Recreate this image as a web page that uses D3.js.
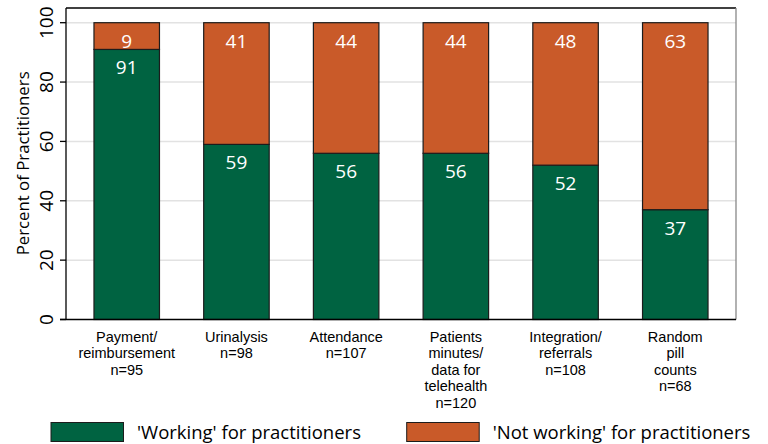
<!DOCTYPE html>
<html>
<head>
<meta charset="utf-8">
<script src="https://cdn.jsdelivr.net/npm/d3@7"></script>
<style>
  body { margin: 0; background: #fff; }
  text { font-family: "Open Sans", sans-serif; }
  .cat { font-family: "Liberation Sans", Arial, sans-serif; }
</style>
</head>
<body>
<svg id="chart" width="768" height="444"></svg>
<script>
// data
const categories = [
    ["Payment/", "reimbursement", "n=95"],
    ["Urinalysis", "n=98"],
    ["Attendance", "n=107"],
    ["Patients", "minutes/", "data for", "telehealth", "n=120"],
    ["Integration/", "referrals", "n=108"],
    ["Random", "pill", "counts", "n=68"]
]
const working = [91, 59, 56, 56, 52, 37]
const notWorking = [9, 41, 44, 44, 48, 63]
const yTicks = [0, 20, 40, 60, 80, 100]
const seriesNames = ["'Working' for practitioners", "'Not working' for practitioners"]
const colors = ["#006341", "#C95A29"]

const svg = d3.select("#chart")

const plotLeft = 66, plotRight = 736, plotTop = 8, plotBottom = 319.5

let x = d3.scaleBand()
    .domain(d3.range(categories.length))
    .range([plotLeft, plotRight])
    .paddingInner(0.403)
    .paddingOuter(0.255)

let y = d3.scaleLinear()
    .domain([0, 100])
    .range([plotBottom, 22.7])

// gridlines
svg.append("g")
    .selectAll("line")
    .data(yTicks.filter(d => d > 0))
    .join("line")
    .attr("x1", plotLeft)
    .attr("x2", plotRight)
    .attr("y1", d => y(d))
    .attr("y2", d => y(d))
    .attr("stroke", "#e2e2e2")
    .attr("stroke-width", 1.5)

// frame top / right
svg.append("line")
    .attr("x1", plotLeft).attr("x2", plotRight)
    .attr("y1", plotTop).attr("y2", plotTop)
    .attr("stroke", "#000").attr("stroke-width", 1.3)
svg.append("line")
    .attr("x1", plotRight).attr("x2", plotRight)
    .attr("y1", plotTop).attr("y2", plotBottom)
    .attr("stroke", "#888").attr("stroke-width", 1.3)

// stacked bars
let stackData = categories.map((c, i) => ({ i: i, working: working[i], notWorking: notWorking[i] }))
let stacked = d3.stack().keys(["working", "notWorking"])(stackData)

let layers = svg.append("g")
    .selectAll("g")
    .data(stacked)
    .join("g")
    .attr("fill", (d, k) => colors[k])

layers.selectAll("rect")
    .data(d => d)
    .join("rect")
    .attr("x", d => x(d.data.i))
    .attr("width", x.bandwidth())
    .attr("y", d => y(d[1]))
    .attr("height", d => y(d[0]) - y(d[1]))
    .attr("stroke", "#1c1c1c")
    .attr("stroke-width", 1.2)

// value labels inside segments
layers.selectAll("text")
    .data(d => d)
    .join("text")
    .attr("x", d => x(d.data.i) + x.bandwidth() / 2)
    .attr("y", d => y(d[1]) + 25)
    .attr("text-anchor", "middle")
    .attr("fill", "#fff")
    .attr("font-size", 19)
    .text(d => d[1] - d[0])

// axes
svg.append("line")
    .attr("x1", plotLeft).attr("x2", plotLeft)
    .attr("y1", plotTop).attr("y2", plotBottom)
    .attr("stroke", "#000").attr("stroke-width", 1.3)
svg.append("line")
    .attr("x1", plotLeft - 6).attr("x2", plotRight)
    .attr("y1", plotBottom).attr("y2", plotBottom)
    .attr("stroke", "#000").attr("stroke-width", 1.3)

let yAxis = svg.append("g")
yAxis.selectAll("line")
    .data(yTicks)
    .join("line")
    .attr("x1", plotLeft - 6).attr("x2", plotLeft)
    .attr("y1", d => y(d)).attr("y2", d => y(d))
    .attr("stroke", "#000").attr("stroke-width", 1.3)
yAxis.selectAll("text")
    .data(yTicks)
    .join("text")
    .attr("transform", d => `translate(52.5,${y(d)}) rotate(-90)`)
    .attr("text-anchor", "middle")
    .attr("font-size", 19)
    .attr("fill", "#000")
    .text(d => d)

svg.append("text")
    .attr("transform", `translate(29,${(66.7 + 260) / 2}) rotate(-90)`)
    .attr("text-anchor", "middle")
    .attr("font-size", 16.8)
    .attr("fill", "#000")
    .text("Percent of Practitioners")

// category labels, one text per line
let catGroups = svg.append("g")
    .selectAll("g")
    .data(categories)
    .join("g")
    .attr("transform", (d, i) => `translate(${x(i) + x.bandwidth() / 2},342)`)
catGroups.selectAll("text")
    .data(d => d)
    .join("text")
    .attr("class", "cat")
    .attr("y", (l, j) => j * 16.4)
    .attr("text-anchor", "middle")
    .attr("font-size", 14.5)
    .attr("fill", "#000")
    .text(l => l)

// legend
let legendX = [51, 406.7]
let legend = svg.append("g")
    .selectAll("g")
    .data(seriesNames)
    .join("g")
    .attr("transform", (d, k) => `translate(${legendX[k]},422.5)`)
legend.append("rect")
    .attr("width", 72.5)
    .attr("height", 19)
    .attr("fill", (d, k) => colors[k])
    .attr("stroke", "#1c1c1c")
    .attr("stroke-width", 1)
legend.append("text")
    .attr("x", 86)
    .attr("y", 16)
    .attr("font-size", 18.5)
    .attr("fill", "#000")
    .text(d => d)
</script>
</body>
</html>
